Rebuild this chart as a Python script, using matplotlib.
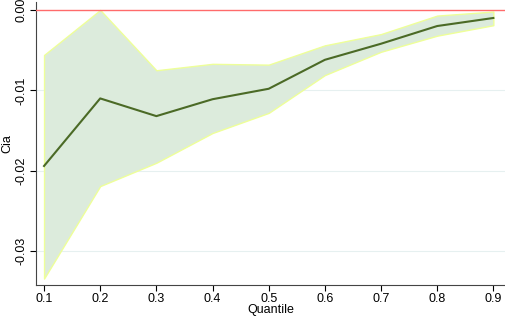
import matplotlib
matplotlib.use("Agg")
import matplotlib.pyplot as plt

plt.rcParams['font.family'] = ['Liberation Sans', 'DejaVu Sans']

quantile = [0.1, 0.2, 0.3, 0.4, 0.5, 0.6, 0.7, 0.8, 0.9]
coef = [-0.0194, -0.0110, -0.0132, -0.0111, -0.0098, -0.0062, -0.0042, -0.0020, -0.0010]
upper = [-0.0056, 0.0000, -0.0075, -0.0067, -0.0068, -0.0044, -0.0030, -0.0007, -0.0002]
lower = [-0.0334, -0.0219, -0.0190, -0.0153, -0.0128, -0.0081, -0.0052, -0.0032, -0.0019]
yticks = [0.0, -0.01, -0.02, -0.03]
ytick_labels = ["0.00", "-0.01", "-0.02", "-0.03"]

fig = plt.figure(figsize=(5.05, 3.16), dpi=100)
ax = fig.add_axes([0.0713, 0.098, 0.929, 0.896])

for t in yticks[1:]:
    ax.axhline(t, color="#e6f0f0", lw=0.8, zorder=0)

ax.fill_between(quantile, lower, upper, facecolor="#dcebdc", edgecolor="#eeff99", lw=1.0, zorder=1)
ax.plot(quantile, coef, color="#4b6a26", lw=1.5, zorder=3)
ax.axhline(0, color="#ff6b6b", lw=1.0, zorder=4)

ax.set_xlim(0.0857, 0.921)
ax.set_ylim(-0.0342, 0.001)
ax.set_xticks(quantile)
ax.set_xticklabels([f"{q:.1f}" for q in quantile])
ax.set_yticks(yticks)
ax.set_yticklabels(ytick_labels, rotation=90, va="center")
ax.tick_params(labelsize=9, length=4, width=0.8, colors="black", pad=2)
ax.set_xlabel("Quantile", fontsize=9, labelpad=-1)
ax.set_ylabel("Cia", fontsize=9, labelpad=2)

ax.spines["top"].set_visible(False)
ax.spines["right"].set_visible(False)
ax.spines["left"].set_color("#444444")
ax.spines["bottom"].set_color("#444444")

fig.savefig("out.png", dpi=100)
